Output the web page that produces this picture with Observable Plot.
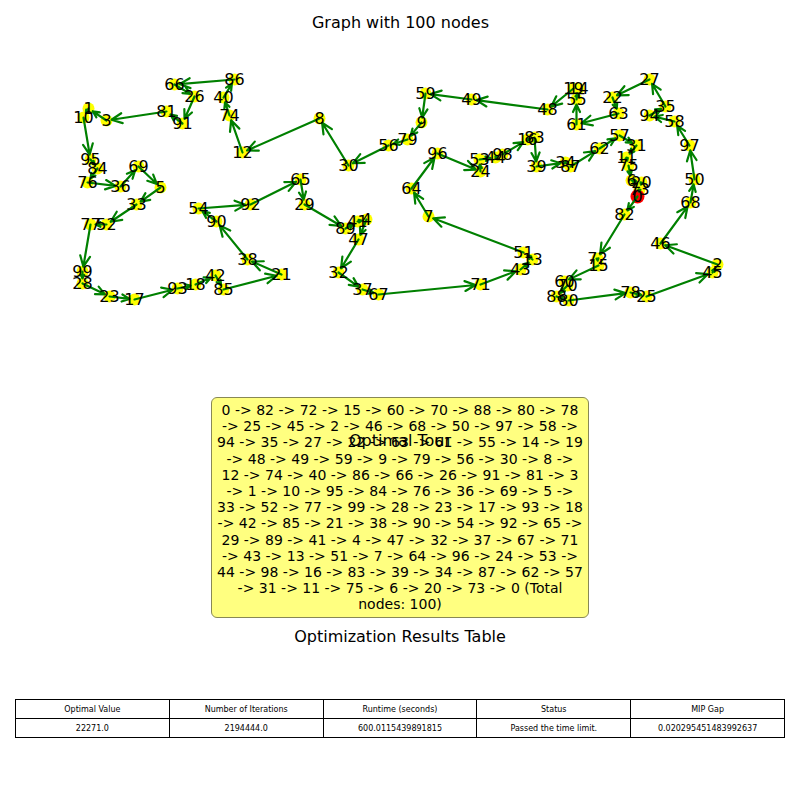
<!DOCTYPE html>
<html><head><meta charset="utf-8">
<script src="https://cdn.jsdelivr.net/npm/d3@7"></script>
<script src="https://cdn.jsdelivr.net/npm/@observablehq/plot@0.6"></script>
<style>
body{margin:0;font-family:"DejaVu Sans",sans-serif;}
#wrap{position:relative;width:800px;height:800px;}
#box{position:absolute;left:211px;top:397px;width:378px;height:221px;background:#ffff80;border:1px solid #888855;border-radius:6px;box-sizing:border-box;text-align:center;font-size:14px;line-height:16.2px;padding-top:4px;}
#boxtitle{position:absolute;left:0;top:431px;width:800px;text-align:center;font-size:16px;}
#ttitle{position:absolute;left:0;top:627px;width:800px;text-align:center;font-size:16px;}
table{position:absolute;left:15px;top:699px;width:770px;border-collapse:collapse;font-size:8px;table-layout:fixed;}
td{border:1px solid #000;text-align:center;height:18px;padding:0;}
</style></head>
<body><div id="wrap"></div>
<script>
// node positions (pixel-like units)
const nodeIds = [0,82,72,15,60,70,88,80,78,25,45,2,46,68,50,97,58,94,35,27,22,63,61,55,14,19,48,49,59,9,79,56,30,8,12,74,40,86,66,26,91,81,3,1,10,95,84,76,36,69,5,33,52,77,99,28,23,17,93,18,42,85,21,38,90,54,92,65,29,89,41,4,47,32,37,67,71,43,13,51,7,64,96,24,53,44,98,16,83,39,34,87,62,57,31,11,75,6,20,73];
const nodeX = [637,624,597,598,564,567,556,568,630,646,712,717,660,690,694,689,674,649,665,649,612,618,576,576,578,573,547,471,425,421,407,388,348,319,242,229,223,234,174,194,182,166,106,88,83,90,97,87,120,138,160,136,106,90,82,82,109,134,177,195,215,223,281,247,216,198,250,300,304,345,357,366,358,338,362,378,480,520,532,523,428,411,437,480,479,495,502,527,534,536,565,570,599,619,636,626,628,631,641,639];
const nodeY = [196,214,258,265,281,285,296,300,292,296,272,264,243,202,179,145,121,115,106,79,97,113,124,99,88,88,109,99,93,122,139,145,165,118,152,115,97,79,84,96,123,111,120,108,117,159,168,182,186,166,187,204,224,224,271,283,296,299,288,284,275,289,274,259,221,208,204,179,204,228,221,219,239,272,289,294,284,269,259,252,216,188,153,171,159,157,154,139,137,166,162,166,148,135,145,157,165,180,182,189];
const tour = [0,82,72,15,60,70,88,80,78,25,45,2,46,68,50,97,58,94,35,27,22,63,61,55,14,19,48,49,59,9,79,56,30,8,12,74,40,86,66,26,91,81,3,1,10,95,84,76,36,69,5,33,52,77,99,28,23,17,93,18,42,85,21,38,90,54,92,65,29,89,41,4,47,32,37,67,71,43,13,51,7,64,96,24,53,44,98,16,83,39,34,87,62,57,31,11,75,6,20,73,0];
const tourLines = ["0 -> 82 -> 72 -> 15 -> 60 -> 70 -> 88 -> 80 -> 78","-> 25 -> 45 -> 2 -> 46 -> 68 -> 50 -> 97 -> 58 ->","94 -> 35 -> 27 -> 22 -> 63 -> 61 -> 55 -> 14 -> 19","-> 48 -> 49 -> 59 -> 9 -> 79 -> 56 -> 30 -> 8 ->","12 -> 74 -> 40 -> 86 -> 66 -> 26 -> 91 -> 81 -> 3","-> 1 -> 10 -> 95 -> 84 -> 76 -> 36 -> 69 -> 5 ->","33 -> 52 -> 77 -> 99 -> 28 -> 23 -> 17 -> 93 -> 18","-> 42 -> 85 -> 21 -> 38 -> 90 -> 54 -> 92 -> 65 ->","29 -> 89 -> 41 -> 4 -> 47 -> 32 -> 37 -> 67 -> 71","-> 43 -> 13 -> 51 -> 7 -> 64 -> 96 -> 24 -> 53 ->","44 -> 98 -> 16 -> 83 -> 39 -> 34 -> 87 -> 62 -> 57","-> 31 -> 11 -> 75 -> 6 -> 20 -> 73 -> 0 (Total","nodes: 100)"];
const tableHeaders = ["Optimal Value","Number of Iterations","Runtime (seconds)","Status","MIP Gap"];
const tableValues = ["22271.0","2194444.0","600.0115439891815","Passed the time limit.","0.020295451483992637"];

const pos = new Map(nodeIds.map((id, i) => [id, {id, x: nodeX[i], y: nodeY[i]}]));
const nodes = nodeIds.map(id => pos.get(id));
const edges = d3.pairs(tour).map(([a, b]) => ({a: pos.get(a), b: pos.get(b)}));

const chart = Plot.plot({
  width: 800, height: 800,
  margin: 0,
  x: {domain: [0, 800], range: [0, 800], axis: null},
  y: {domain: [0, 800], range: [0, 800], axis: null},
  marks: [
    Plot.text(["Graph with 100 nodes"], {frameAnchor: "top", dy: 16, fontSize: 16, fill: "#000"}),
    Plot.dot(nodes.filter(d => d.id !== 0), {x: "x", y: "y", r: 6, fill: "yellow"}),
    Plot.dot(nodes.filter(d => d.id === 0), {x: "x", y: "y", r: 7, fill: "red"}),
    Plot.arrow(edges, {x1: d => d.a.x, y1: d => d.a.y, x2: d => d.b.x, y2: d => d.b.y,
      stroke: "green", strokeWidth: 2.2, headLength: 8, headAngle: 50, insetEnd: 5, bend: 0}),
    Plot.text(nodes, {x: "x", y: "y", text: "id", fontSize: 16, fill: "#000"})
  ]
});
chart.style.fontFamily = "DejaVu Sans";
const wrap = document.getElementById("wrap");
wrap.append(chart);

const box = d3.select(wrap).append("div").attr("id", "box");
tourLines.forEach(l => box.append("div").text(l));
d3.select(wrap).append("div").attr("id", "boxtitle").text("Optimal Tour");
d3.select(wrap).append("div").attr("id", "ttitle").text("Optimization Results Table");
const table = d3.select(wrap).append("table");
table.append("tr").selectAll("td").data(tableHeaders).join("td").text(d => d);
table.append("tr").selectAll("td").data(tableValues).join("td").text(d => d);
</script></body></html>
